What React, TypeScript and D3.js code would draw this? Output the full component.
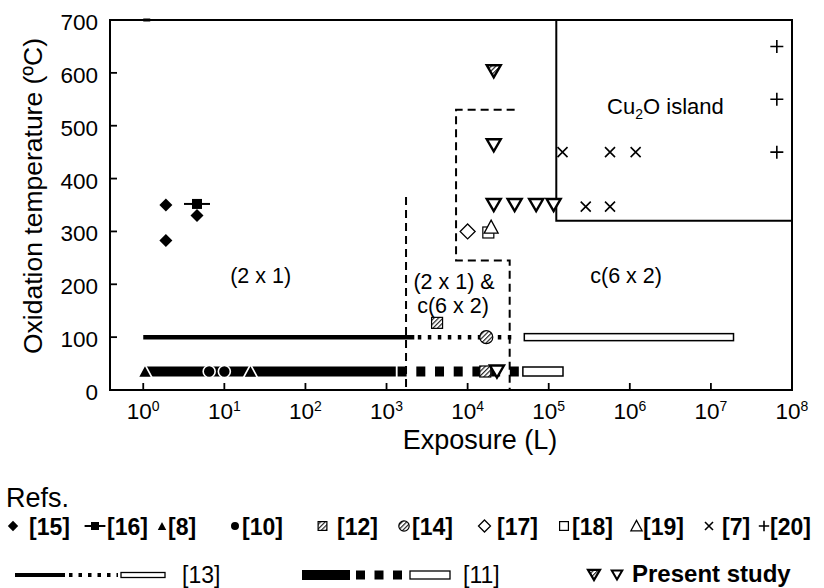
import React, { useEffect, useRef } from 'react';
import * as d3 from 'd3';

// axis ticks
const EXPONENTS = [0, 1, 2, 3, 4, 5, 6, 7, 8];
const TEMP_TICKS = [0, 100, 200, 300, 400, 500, 600, 700];

// literature points (exposure in L, temperature in C)
const REF15 = [{ exp: 1.9, temp: 350 }, { exp: 1.9, temp: 283 }, { exp: 4.6, temp: 330 }];
const REF16 = [{ exp: 4.6, temp: 352 }];
const REF8 = [{ exp: 1.05, temp: 35 }, { exp: 21, temp: 35 }];
const REF10 = [{ exp: 6.5, temp: 35 }, { exp: 10, temp: 35 }];
const REF12 = [{ exp: 4200, temp: 127 }, { exp: 16500, temp: 35 }];
const REF14 = [{ exp: 17000, temp: 100 }];
const REF17 = [{ exp: 10000, temp: 300 }];
const REF18 = [{ exp: 18000, temp: 298 }];
const REF19 = [{ exp: 19500, temp: 308 }];
const REF7 = [
  { exp: 148000, temp: 450 }, { exp: 570000, temp: 450 }, { exp: 1180000, temp: 450 },
  { exp: 286000, temp: 347 }, { exp: 570000, temp: 347 },
];
const REF20 = [{ exp: 6.5e7, temp: 650 }, { exp: 6.5e7, temp: 550 }, { exp: 6.5e7, temp: 450 }];
const PRESENT_OPEN = [
  { exp: 21000, temp: 350 }, { exp: 38000, temp: 350 }, { exp: 70000, temp: 350 },
  { exp: 115000, temp: 350 }, { exp: 21000, temp: 463 }, { exp: 23000, temp: 35 },
];
const PRESENT_HATCHED = [{ exp: 21000, temp: 603 }];

// range bars
const REF13 = [
  { from: 1, to: 2200, temp: 100, kind: 'solid' },
  { from: 2200, to: 41000, temp: 100, kind: 'dotted' },
  { from: 50000, to: 1.9e7, temp: 100, kind: 'open' },
];
const REF11 = [
  { from: 1, to: 1300, temp: 35, kind: 'bar' },
  { from: 1370, to: 44000, temp: 35, kind: 'blocks' },
  { from: 48000, to: 150000, temp: 35, kind: 'open' },
];

// phase boundaries
const DASHED_21 = [[1740, 365], [1740, 0]];
const DASHED_MIX = [[38000, 530], [7200, 530], [7200, 245], [33000, 245], [33000, 0]];
const CU2O_EDGE = [[124000, 700], [124000, 320], [1e8, 320]];

const REGION_LABELS = [
  { text: '(2 x 1)', exp: 28, temp: 202 },
  { text: '(2 x 1) &', exp: 6800, temp: 191 },
  { text: 'c(6 x 2)', exp: 6600, temp: 145 },
  { text: 'c(6 x 2)', exp: 9e5, temp: 202 },
];
const ISLAND_LABEL = { exp: 2.75e6, temp: 522 };

const LEGEND_ROW1 = [
  { sym: 'diamond', label: '[15]' },
  { sym: 'barSquare', label: '[16]' },
  { sym: 'triUp', label: '[8]' },
  { sym: 'circle', label: '[10]' },
  { sym: 'hatchSquare', label: '[12]' },
  { sym: 'hatchCircle', label: '[14]' },
  { sym: 'openDiamond', label: '[17]' },
  { sym: 'openSquare', label: '[18]' },
  { sym: 'openTriUp', label: '[19]' },
  { sym: 'cross', label: '[7]' },
  { sym: 'plus', label: '[20]' },
];
const ROW1_SYM_X = [13, 95, 162, 235, 322.5, 404, 484.5, 564, 636.5, 709, 764];
const ROW1_TEXT_X = [29, 107, 168, 242, 337, 412, 497, 572, 643, 722, 770];

const FONT = "'Liberation Sans', Arial, Helvetica, sans-serif";

const drawSymbol = (g, sym, cx, cy, s = 1) => {
  const pts = (arr) => arr.map(p => p.join(',')).join(' ');
  if (sym === 'diamond' || sym === 'openDiamond') {
    const h = (sym === 'diamond' ? 6.5 : 7.5) * s;
    g.append('polygon')
      .attr('points', pts([[cx, cy - h], [cx + h, cy], [cx, cy + h], [cx - h, cy]]))
      .attr('fill', sym === 'diamond' ? '#000' : '#fff')
      .attr('stroke', '#000').attr('stroke-width', sym === 'diamond' ? 0 : 1.3);
  } else if (sym === 'barSquare') {
    g.append('line').attr('x1', cx - 13 * s).attr('x2', cx + 13 * s)
      .attr('y1', cy).attr('y2', cy).attr('stroke', '#000').attr('stroke-width', 2);
    g.append('rect').attr('x', cx - 5 * s).attr('y', cy - 5 * s)
      .attr('width', 10 * s).attr('height', 10 * s).attr('fill', '#000');
  } else if (sym === 'triUp' || sym === 'openTriUp') {
    const w = 7 * s;
    g.append('polygon')
      .attr('points', pts([[cx - w, cy + 6 * s], [cx + w, cy + 6 * s], [cx, cy - 7 * s]]))
      .attr('fill', sym === 'triUp' ? '#000' : '#fff')
      .attr('stroke', sym === 'triUp' ? '#fff' : '#000')
      .attr('stroke-width', sym === 'triUp' ? 1.6 : 1.3);
  } else if (sym === 'circle') {
    g.append('circle').attr('cx', cx).attr('cy', cy).attr('r', 6 * s)
      .attr('fill', '#000').attr('stroke', '#fff').attr('stroke-width', 1.6);
  } else if (sym === 'hatchSquare' || sym === 'openSquare') {
    const h = 5.5 * s;
    g.append('rect').attr('x', cx - h).attr('y', cy - h)
      .attr('width', 2 * h).attr('height', 2 * h)
      .attr('fill', sym === 'hatchSquare' ? 'url(#hatch)' : '#fff')
      .attr('stroke', '#000').attr('stroke-width', 1.2);
  } else if (sym === 'hatchCircle') {
    g.append('circle').attr('cx', cx).attr('cy', cy).attr('r', 6.5 * s)
      .attr('fill', 'url(#hatch)').attr('stroke', '#000').attr('stroke-width', 1.2);
  } else if (sym === 'cross') {
    const h = 5 * s;
    g.append('path')
      .attr('d', `M${cx - h},${cy - h}L${cx + h},${cy + h}M${cx - h},${cy + h}L${cx + h},${cy - h}`)
      .attr('stroke', '#000').attr('stroke-width', 1.6);
  } else if (sym === 'plus') {
    const h = 6.5 * s;
    g.append('path')
      .attr('d', `M${cx - h},${cy}L${cx + h},${cy}M${cx},${cy - h}L${cx},${cy + h}`)
      .attr('stroke', '#000').attr('stroke-width', 1.6);
  } else if (sym === 'triDown' || sym === 'hatchTriDown') {
    const w = 7 * s, h = 6 * s;
    g.append('polygon')
      .attr('points', pts([[cx - w, cy - h], [cx + w, cy - h], [cx, cy + h]]))
      .attr('fill', sym === 'triDown' ? '#fff' : 'url(#hatch)')
      .attr('stroke', '#000').attr('stroke-width', 2.4 * Math.min(1, s + 0.1))
      .attr('stroke-linejoin', 'miter');
  }
};

const PhaseChart = () => {
  const svgRef = useRef(null);

  useEffect(() => {
    const svg = d3.select(svgRef.current);
    svg.selectAll('*').remove();

    const x = d3.scaleLog().domain([Math.pow(10, -0.41), 1e8]).range([110, 792]);
    const y = d3.scaleLinear().domain([0, 700]).range([390, 20]);

    const defs = svg.append('defs');
    const pat = defs.append('pattern')
      .attr('id', 'hatch')
      .attr('patternUnits', 'userSpaceOnUse')
      .attr('width', 3.2).attr('height', 3.2)
      .attr('patternTransform', 'rotate(45)');
    pat.append('rect').attr('width', 3.2).attr('height', 3.2).attr('fill', '#fff');
    pat.append('line').attr('x1', 0.6).attr('x2', 0.6).attr('y1', 0).attr('y2', 3.2)
      .attr('stroke', '#000').attr('stroke-width', 1);

    const g = svg.append('g');

    // frame
    g.append('rect')
      .attr('x', x.range()[0]).attr('y', y.range()[1])
      .attr('width', x.range()[1] - x.range()[0])
      .attr('height', y.range()[0] - y.range()[1])
      .attr('fill', 'none').attr('stroke', '#000').attr('stroke-width', 2);
    g.append('line')
      .attr('x1', x(1)).attr('x2', x(1) + 7).attr('y1', y(700)).attr('y2', y(700))
      .attr('stroke', '#000').attr('stroke-width', 3);

    // ticks
    EXPONENTS.slice(0, -1).forEach(e => {
      g.append('line').attr('x1', x(Math.pow(10, e))).attr('x2', x(Math.pow(10, e)))
        .attr('y1', y(0)).attr('y2', y(0) - 7).attr('stroke', '#000').attr('stroke-width', 1.8);
    });
    TEMP_TICKS.slice(1, -1).forEach(t => {
      g.append('line').attr('x1', x.range()[0]).attr('x2', x.range()[0] + 7)
        .attr('y1', y(t)).attr('y2', y(t)).attr('stroke', '#000').attr('stroke-width', 1.8);
    });

    // tick labels
    TEMP_TICKS.forEach(t => {
      g.append('text').attr('x', 98).attr('y', y(t) + 10)
        .attr('text-anchor', 'end').attr('font-family', FONT).attr('font-size', 22.5)
        .text(t);
    });
    EXPONENTS.forEach(e => {
      const tx = g.append('text').attr('x', x(Math.pow(10, e))).attr('y', 419)
        .attr('text-anchor', 'middle').attr('font-family', FONT).attr('font-size', 22.5);
      tx.append('tspan').text('10');
      tx.append('tspan').attr('dy', -8).attr('font-size', 14).text(e);
    });

    // axis titles
    g.append('text').attr('x', 480).attr('y', 449).attr('text-anchor', 'middle')
      .attr('font-family', FONT).attr('font-size', 27).text('Exposure (L)');
    g.append('text').attr('transform', 'translate(42,196) rotate(-90)')
      .attr('text-anchor', 'middle').attr('font-family', FONT).attr('font-size', 26.5)
      .text('Oxidation temperature (ºC)');

    // boundaries
    const line = d3.line().x(d => x(d[0])).y(d => y(d[1]));
    [DASHED_21, DASHED_MIX].forEach(pts => {
      g.append('path').attr('d', line(pts)).attr('fill', 'none')
        .attr('stroke', '#000').attr('stroke-width', 2).attr('stroke-dasharray', '8 5');
    });
    g.append('path').attr('d', line(CU2O_EDGE)).attr('fill', 'none')
      .attr('stroke', '#000').attr('stroke-width', 2);

    // region labels
    REGION_LABELS.forEach(l => {
      g.append('text').attr('x', x(l.exp)).attr('y', y(l.temp))
        .attr('text-anchor', 'middle').attr('font-family', FONT).attr('font-size', 21.5)
        .text(l.text);
    });
    const isl = g.append('text').attr('x', x(ISLAND_LABEL.exp)).attr('y', y(ISLAND_LABEL.temp))
      .attr('text-anchor', 'middle').attr('font-family', FONT).attr('font-size', 22);
    isl.append('tspan').text('Cu');
    isl.append('tspan').attr('font-size', 14).attr('dy', 5).text('2');
    isl.append('tspan').attr('dy', -5).text('O island');

    // range bars
    const drawRange = (segs, thick, openH) => {
      segs.forEach(s => {
        const x1 = x(s.from), x2 = x(s.to), yy = y(s.temp);
        if (s.kind === 'open') {
          g.append('rect').attr('x', x1).attr('y', yy - openH / 2)
            .attr('width', x2 - x1).attr('height', openH)
            .attr('fill', '#fff').attr('stroke', '#000').attr('stroke-width', 1.5);
        } else {
          const ln = g.append('line').attr('x1', x1).attr('x2', x2).attr('y1', yy).attr('y2', yy)
            .attr('stroke', '#000').attr('stroke-width', thick);
          if (s.kind === 'dotted') ln.attr('stroke-dasharray', '3.5 6.5').attr('stroke-dashoffset', 6.5);
          if (s.kind === 'blocks') ln.attr('stroke-dasharray', '9 9.7');
        }
      });
    };
    drawRange(REF13, 4.5, 7);
    drawRange(REF11, 10, 9);

    // points
    const plot = (data, sym) => data.forEach(d => drawSymbol(g, sym, x(d.exp), y(d.temp)));
    plot(REF15, 'diamond');
    plot(REF16, 'barSquare');
    plot(REF8, 'triUp');
    plot(REF10, 'circle');
    plot(REF12, 'hatchSquare');
    plot(REF14, 'hatchCircle');
    plot(REF17, 'openDiamond');
    plot(REF18, 'openSquare');
    plot(REF19, 'openTriUp');
    plot(REF7, 'cross');
    plot(REF20, 'plus');
    plot(PRESENT_OPEN, 'triDown');
    plot(PRESENT_HATCHED, 'hatchTriDown');

    // legend
    const lg = svg.append('g');
    lg.append('text').attr('x', 6).attr('y', 507).attr('font-family', FONT)
      .attr('font-size', 27).text('Refs.');
    LEGEND_ROW1.forEach((item, i) => {
      drawSymbol(lg, item.sym, ROW1_SYM_X[i], 526, 0.8);
      lg.append('text').attr('x', ROW1_TEXT_X[i]).attr('y', 535)
        .attr('font-family', FONT).attr('font-size', 23).attr('font-weight', 'bold')
        .text(item.label);
    });

    const ry = 575;
    lg.append('line').attr('x1', 15).attr('x2', 65).attr('y1', ry).attr('y2', ry)
      .attr('stroke', '#000').attr('stroke-width', 4);
    lg.append('line').attr('x1', 69).attr('x2', 118).attr('y1', ry).attr('y2', ry)
      .attr('stroke', '#000').attr('stroke-width', 4).attr('stroke-dasharray', '3.5 6');
    lg.append('rect').attr('x', 121).attr('y', ry - 2.5).attr('width', 44).attr('height', 5)
      .attr('fill', '#fff').attr('stroke', '#000').attr('stroke-width', 1.3);
    lg.append('text').attr('x', 182).attr('y', 583).attr('font-family', FONT)
      .attr('font-size', 23).text('[13]');

    lg.append('rect').attr('x', 302).attr('y', ry - 5).attr('width', 48).attr('height', 10).attr('fill', '#000');
    lg.append('line').attr('x1', 356).attr('x2', 402).attr('y1', ry).attr('y2', ry)
      .attr('stroke', '#000').attr('stroke-width', 9).attr('stroke-dasharray', '9 9.5');
    lg.append('rect').attr('x', 410).attr('y', ry - 4).attr('width', 40).attr('height', 8)
      .attr('fill', '#fff').attr('stroke', '#000').attr('stroke-width', 1.3);
    lg.append('text').attr('x', 463).attr('y', 583).attr('font-family', FONT)
      .attr('font-size', 23).text('[11]');

    drawSymbol(lg, 'hatchTriDown', 594, ry, 0.85);
    drawSymbol(lg, 'triDown', 617, ry, 0.75);
    lg.append('text').attr('x', 632).attr('y', 582).attr('font-family', FONT)
      .attr('font-size', 24).attr('font-weight', 'bold').text('Present study');
  }, []);

  return (
    <div style={{ position: 'absolute', left: 0, top: 0 }}>
      <svg ref={svgRef} width={824} height={588} style={{ display: 'block', background: '#fff' }} />
    </div>
  );
};

export default function App() {
  return <PhaseChart />;
}
